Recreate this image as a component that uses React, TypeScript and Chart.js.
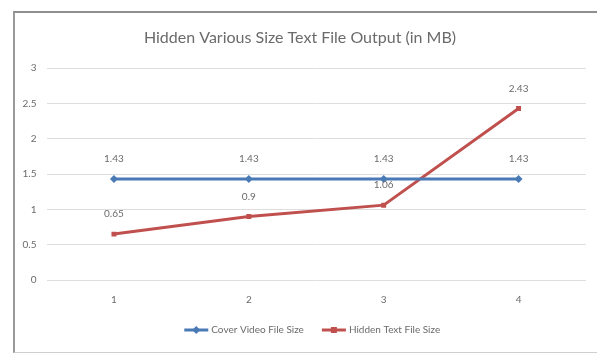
import React, { useEffect, useRef } from "react";
import { Chart, registerables } from "chart.js";

Chart.register(...registerables);

const categories = ["1", "2", "3", "4"];
const coverVideo = [1.43, 1.43, 1.43, 1.43];
const hiddenText = [0.65, 0.9, 1.06, 2.43];
const coverLabels = ["1.43", "1.43", "1.43", "1.43"];
const hiddenLabels = ["0.65", "0.9", "1.06", "2.43"];
const yTickLabels = ["0", "0.5", "1", "1.5", "2", "2.5", "3"];
const seriesNames = ["Cover Video File Size", "Hidden Text File Size"];
const titleText = "Hidden Various Size Text File Output (in MB)";

const FONT = "Lato, 'Open Sans', sans-serif";
const TEXT = "#6b6b6b";

const dataLabelPlugin = {
  id: "dataLabels",
  afterDatasetsDraw(chart: any) {
    const ctx = chart.ctx;
    const lbls = [coverLabels, hiddenLabels];
    ctx.save();
    ctx.font = `10px ${FONT}`;
    ctx.fillStyle = TEXT;
    ctx.textAlign = "center";
    ctx.textBaseline = "middle";
    chart.data.datasets.forEach((ds: any, i: number) => {
      const meta = chart.getDatasetMeta(i);
      meta.data.forEach((pt: any, j: number) => {
        ctx.fillText(lbls[i][j], pt.x, pt.y - 20);
      });
    });
    ctx.restore();
  },
};

const legendPlugin = {
  id: "customLegend",
  afterDraw(chart: any) {
    const ctx = chart.ctx;
    ctx.save();
    ctx.font = `10px ${FONT}`;
    ctx.textBaseline = "middle";
    const y = 330;
    const lineW = 24;
    const gapText = 3;
    const gapItem = 18;
    const items = chart.data.datasets.map((ds: any) => ({
      ds,
      w: lineW + gapText + ctx.measureText(ds.label).width,
    }));
    const total = items.reduce((s: number, it: any) => s + it.w, 0) + gapItem * (items.length - 1);
    let x = (chart.chartArea.left + chart.chartArea.right) / 2 - total / 2 - 4;
    items.forEach((it: any) => {
      const ds = it.ds;
      ctx.strokeStyle = ds.borderColor;
      ctx.lineWidth = 3;
      ctx.beginPath();
      ctx.moveTo(x, y);
      ctx.lineTo(x + lineW, y);
      ctx.stroke();
      ctx.fillStyle = ds.borderColor;
      const cx = x + lineW / 2;
      if (ds.pointStyle === "rectRot") {
        ctx.beginPath();
        ctx.moveTo(cx, y - 4);
        ctx.lineTo(cx + 4, y);
        ctx.lineTo(cx, y + 4);
        ctx.lineTo(cx - 4, y);
        ctx.closePath();
        ctx.fill();
      } else {
        ctx.fillRect(cx - 3, y - 3, 6, 6);
      }
      ctx.fillStyle = TEXT;
      ctx.textAlign = "left";
      ctx.fillText(ds.label, x + lineW + gapText, y);
      x += it.w + gapItem;
    });
    ctx.restore();
  },
};

export default function App() {
  const ref = useRef<HTMLCanvasElement>(null);
  useEffect(() => {
    if (!ref.current) return;
    const chart = new Chart(ref.current, {
      type: "line",
      data: {
        labels: categories,
        datasets: [
          {
            label: seriesNames[0],
            data: coverVideo,
            borderColor: "#4a7ab5",
            backgroundColor: "#4a7ab5",
            borderWidth: 3,
            pointStyle: "rectRot",
            pointRadius: 4,
            pointBackgroundColor: "#4a7ab5",
            pointBorderWidth: 0,
            tension: 0,
          },
          {
            label: seriesNames[1],
            data: hiddenText,
            borderColor: "#c0504d",
            backgroundColor: "#c0504d",
            borderWidth: 3,
            pointStyle: "rect",
            pointRadius: 3.5,
            pointBackgroundColor: "#c0504d",
            pointBorderWidth: 0,
            tension: 0,
          },
        ],
      },
      options: {
        animation: false,
        responsive: false,
        maintainAspectRatio: false,
        layout: { padding: { left: 14, right: 11, top: 12, bottom: 38 } },
        plugins: {
          legend: { display: false },
          tooltip: { enabled: false },
          title: {
            display: true,
            text: titleText,
            color: TEXT,
            font: { family: FONT, size: 16, weight: "normal" as any },
            padding: { top: 16, bottom: 21 },
          },
        },
        scales: {
          x: {
            offset: true,
            grid: { display: false, drawTicks: false },
            border: { display: false },
            ticks: { color: TEXT, font: { family: FONT, size: 10 }, padding: 14 },
            afterFit: (s: any) => {
              s.height = 35;
            },
          },
          y: {
            min: 0,
            max: 3,
            ticks: {
              stepSize: 0.5,
              color: TEXT,
              font: { family: FONT, size: 10 },
              padding: 10,
              callback: (_v: any, i: number) => yTickLabels[i],
            },
            grid: { color: "#dedede", lineWidth: 1, drawTicks: false },
            border: { display: false },
            afterFit: (s: any) => {
              s.width = 32.5;
            },
          },
        },
      },
      plugins: [dataLabelPlugin, legendPlugin],
    });
    return () => chart.destroy();
  }, []);
  return (
    <div style={{ position: "fixed", left: 0, top: 0, width: 597, height: 353, background: "#fff", overflow: "hidden" }}>
      <canvas ref={ref} width={597} height={353} style={{ position: "absolute", left: 0, top: 0 }} />
      <div
        style={{
          position: "absolute",
          left: 13,
          top: 11,
          width: 620,
          height: 339,
          borderTop: "2px solid #8f8f8f",
          borderLeft: "2px solid #9a9a9a",
          borderBottom: "1px solid #cfcfcf",
          pointerEvents: "none",
        }}
      />
    </div>
  );
}
